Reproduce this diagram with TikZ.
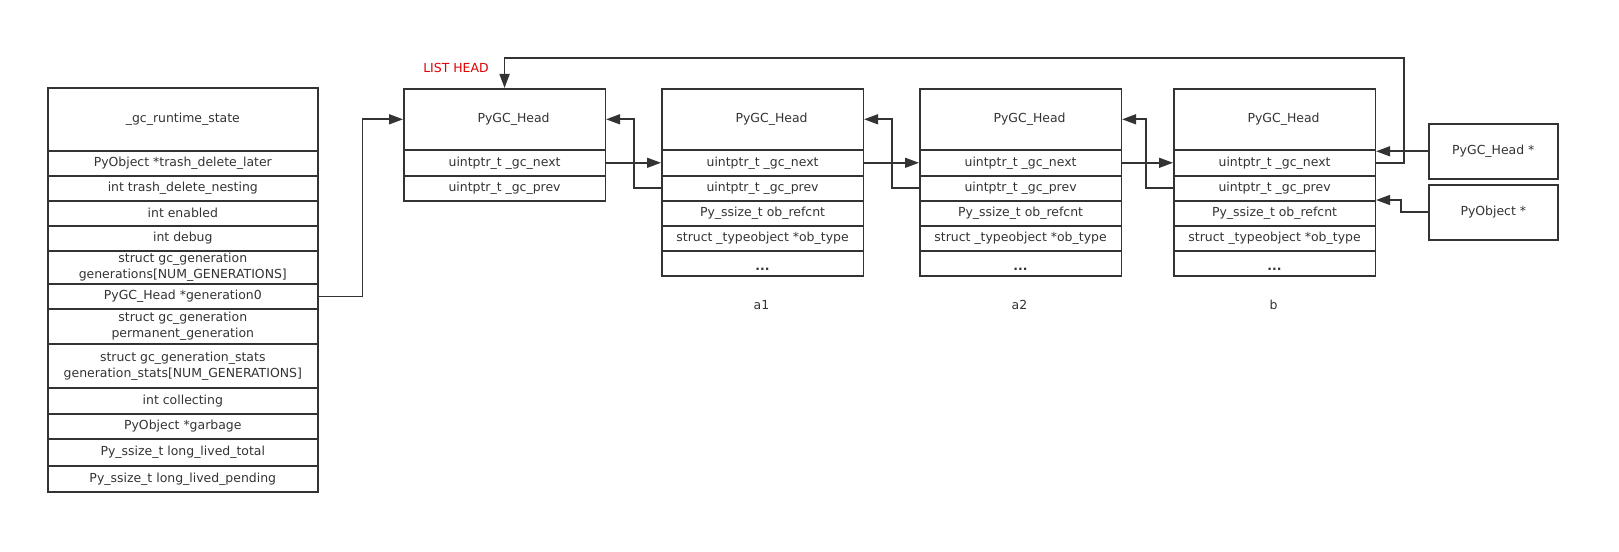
\documentclass[tikz,border=0pt]{standalone}
\usepackage{fontspec}
\setmainfont{DejaVu Sans}
\usetikzlibrary{arrows.meta}
\definecolor{linec}{HTML}{333333}
\definecolor{headred}{HTML}{E00000}
\tikzset{
  box/.style={draw=linec, line width=1.6bp, inner sep=0pt, anchor=north west, align=center,
    font=\fontsize{12.5}{16}\selectfont, text=linec},
  gcrow/.style={box, minimum width=270bp},
  objrow/.style={box, minimum width=201.5bp},
  conn/.style={draw=linec, line width=1.6bp, -{Triangle[length=14bp,width=10bp]}},
}

\begin{document}
\begin{tikzpicture}[x=1bp,y=-1bp]
	\fill[white] (0,0) rectangle (1619,552);
	\useasboundingbox (0,0) rectangle (1619,552);
	% runtime state
	\node[gcrow, minimum height=63bp] (rt) at (47,87) {\_gc\_runtime\_state};
	\node[gcrow, minimum height=25bp] (tdl) at (47,150) {PyObject *trash\_delete\_later};
	\node[gcrow, minimum height=25bp] (tdn) at (47,175) {int trash\_delete\_nesting};
	\node[gcrow, minimum height=25bp] (en) at (47,200) {int enabled};
	\node[gcrow, minimum height=25bp] (dbg) at (47,225) {int debug};
	\node[gcrow, minimum height=33bp] (gens) at (47,250) {struct gc\_generation\\generations[NUM\_GENERATIONS]};
	\node[gcrow, minimum height=25bp] (gen0) at (47,283) {PyGC\_Head *generation0};
	\node[gcrow, minimum height=35bp] (perm) at (47,308) {struct gc\_generation\\permanent\_generation};
	\node[gcrow, minimum height=44bp] (stats) at (47,343) {struct gc\_generation\_stats\\generation\_stats[NUM\_GENERATIONS]};
	\node[gcrow, minimum height=26bp] (coll) at (47,387) {int collecting};
	\node[gcrow, minimum height=25bp] (garb) at (47,413) {PyObject *garbage};
	\node[gcrow, minimum height=27bp] (llt) at (47,438) {Py\_ssize\_t long\_lived\_total};
	\node[gcrow, minimum height=26bp] (llp) at (47,465) {Py\_ssize\_t long\_lived\_pending};
	% list head
	\node[font=\fontsize{12.5}{16}\selectfont, text=headred] (lh) at (456,68) {LIST HEAD};
	\node[objrow, minimum height=61bp] (hd0) at (403,88) {\hspace{18bp}PyGC\_Head};
	\node[objrow, minimum height=26bp] (nx0) at (403,149) {uintptr\_t \_gc\_next};
	\node[objrow, minimum height=25bp] (pv0) at (403,175) {uintptr\_t \_gc\_prev};
	% objects
	\foreach \i/\x/\lbl in {1/661/a1, 2/919/a2, 3/1173/b} {
		\node[objrow, minimum height=61bp] (hd\i) at (\x,88) {\hspace{18bp}PyGC\_Head};
		\node[objrow, minimum height=26bp] (nx\i) at (\x,149) {uintptr\_t \_gc\_next};
		\node[objrow, minimum height=25bp] (pv\i) at (\x,175) {uintptr\_t \_gc\_prev};
		\node[objrow, minimum height=25bp] (rc\i) at (\x,200) {Py\_ssize\_t ob\_refcnt};
		\node[objrow, minimum height=25bp] (ty\i) at (\x,225) {struct \_typeobject *ob\_type};
		\node[objrow, minimum height=25bp] (dt\i) at (\x,250) {\smash{\raisebox{-7bp}{\textbf{...}}}};
		\node[font=\fontsize{12.5}{16}\selectfont, text=linec] (lb\i) at (\x+100.5,305) {\lbl};
	}
	\node[box, minimum width=129bp, minimum height=55bp] (ptr) at (1428,123) {PyGC\_Head *};
	\node[box, minimum width=129bp, minimum height=55bp] (obj) at (1428,184) {PyObject *};
	% links
	\draw[conn] (gen0.east) -- ++(44,0) |- (hd0.west);
	\foreach \i/\j in {0/1,1/2,2/3} {
		\draw[conn] (nx\i.east) -- (nx\j.west);
		\draw[conn] (pv\j.west) -- ++(-27,0) |- (hd\i.east);
	}
	\coordinate (loop) at (1404,58);
	\draw[conn] (nx3.east) -| (loop) -| (hd0.north);
	\draw[conn] (ptr.west) -- (ptr.west -| hd3.east);
	\draw[conn] (obj.west) -- ++(-27,0) |- (rc3.north east);
\end{tikzpicture}
\end{document}
